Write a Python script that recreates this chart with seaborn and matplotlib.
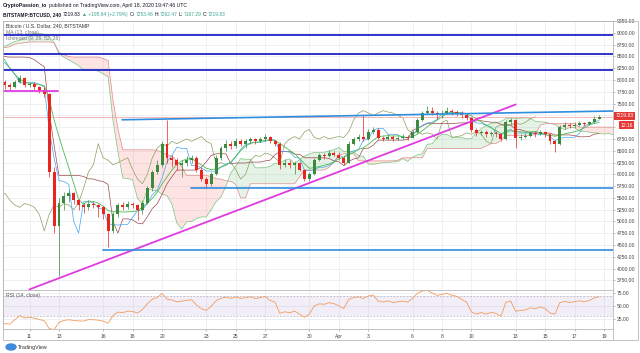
import numpy as np
import pandas as pd
import matplotlib
matplotlib.use("Agg")
import matplotlib.pyplot as plt
import seaborn as sns
from matplotlib.patches import Rectangle, Ellipse
from matplotlib.lines import Line2D

sns.set_theme(style="white")
plt.rcParams['font.family'] = ['Liberation Sans', 'DejaVu Sans']

# BITSTAMP:BTCUSD, 8h candles, starting 2020-03-01 00:00
first_open = 8600
close = [8560, 8600, 8530, 8520, 8700, 8900, 8870, 8800, 8760, 8780, 8720, 8750,
         8800, 8950, 9060, 9080, 9120, 9150, 9050, 8950, 8900, 8700, 8450, 8030,
         7950, 7900, 7850, 7950, 8050, 7900, 7920, 7850, 7780, 7700, 6050, 4900,
         5400, 5550, 5600, 5450, 5350, 5300, 5380, 5350, 5300, 5150, 4800, 5150,
         5350, 5300, 5380, 5350, 5250, 5400, 5700, 6050, 6200, 6650, 6350, 6300,
         6200, 6250, 6300, 6350, 6100, 5900, 5800, 6000, 6350, 6550, 6650, 6600,
         6700, 6650, 6700, 6750, 6700, 6750, 6800, 6700, 6650, 6200, 6250, 6200,
         6250, 6100, 5900, 6000, 6300, 6400, 6380, 6450, 6420,
         6350, 6250, 6650, 6750, 6800, 6750, 6900, 6950, 6780, 6750, 6800, 6750,
         6780, 6800, 6780, 6900, 7150, 7300, 7350, 7300, 7250, 7300, 7350, 7320,
         7300, 7250, 7200, 6950, 6870, 6900, 6850, 6880, 6850, 6750, 7100, 7150,
         6780, 6800, 6820, 6880, 6850, 6900, 6850, 6700, 6650, 7000, 7050, 7020,
         7050, 7080, 7060, 7100, 7180, 7219.83]
high = [8620, 8640, 8620, 8580, 8740, 8950, 8940, 8900, 8830, 8820, 8810, 8790,
        8840, 8990, 9100, 9130, 9160, 9190, 9170, 9080, 8980, 8920, 8720, 8470,
        8100, 8000, 7930, 7990, 8100, 8060, 7960, 7950, 7880, 7850, 7720, 6150,
        5500, 5620, 5660, 5620, 5480, 5400, 5450, 5420, 5380, 5330, 5180, 5200,
        5400, 5420, 5430, 5420, 5380, 5450, 5750, 6100, 6300, 6700, 7150, 6420,
        6350, 6300, 6380, 6420, 6380, 6150, 5950, 6050, 6400, 6600, 6720, 6700,
        6760, 6740, 6750, 6800, 6780, 6790, 6850, 6820, 6720, 6680, 6320, 6300,
        6280, 6270, 6120, 6050, 6350, 6450, 6450, 6520, 6500,
        6470, 6380, 6700, 6800, 6850, 7250, 6960, 7000, 6980, 6820, 6850, 6830,
        6820, 6850, 6830, 6950, 7200, 7350, 7450, 7420, 7340, 7360, 7420, 7380,
        7360, 7340, 7280, 7220, 6980, 6950, 6940, 6920, 6910, 6880, 7150, 7200,
        7170, 6850, 6880, 6920, 6920, 6950, 6920, 6870, 6720, 7050, 7100, 7090,
        7100, 7120, 7110, 7130, 7230, 7262.47]
low = [8500, 8530, 8480, 8420, 8500, 8680, 8820, 8740, 8700, 8690, 8650, 8680,
       8720, 8780, 8930, 9020, 9050, 9090, 9020, 8920, 8850, 8650, 8400, 7980,
       7880, 7800, 7780, 7820, 7930, 7860, 7850, 7790, 7720, 7640, 5950, 4750,
       3850, 5250, 5420, 5380, 5250, 5180, 5250, 5280, 5100, 5050, 4450, 4750,
       5100, 5240, 5260, 5290, 5030, 5150, 5380, 5650, 6000, 6150, 6250, 6150,
       6100, 5950, 6180, 6250, 6050, 5850, 5720, 5750, 5980, 6300, 6500, 6530,
       6560, 6600, 6550, 6650, 6640, 6680, 6700, 6660, 6600, 6120, 6150, 6130,
       6000, 6060, 5850, 5860, 5980, 6280, 6330, 6360, 6380,
       6300, 6200, 6230, 6620, 6700, 6700, 6720, 6850, 6740, 6700, 6720, 6700,
       6720, 6740, 6730, 6760, 6880, 7120, 7270, 7250, 7180, 7200, 7280, 7260,
       7230, 7200, 7150, 6900, 6820, 6840, 6790, 6810, 6800, 6700, 6720, 7060,
       6550, 6720, 6760, 6790, 6800, 6830, 6800, 6650, 6470, 6620, 6960, 6980,
       6990, 7020, 7020, 7040, 7080, 7167.29]

# drawings on the chart (day of March, price)
navy_levels = [8950, 8560, 8220]
pink_short_x, pink_short_y = [9.2, 12.93], [7760, 7760]
pink_trend_x, pink_trend_y = [10.99, 44.0], [3560, 7480]
blue_trend_x, blue_trend_y = [17.28, 50.61], [7156, 7342]
blue_level_start = [21.96, 15.96]
blue_level_price = [5715, 4400]

price_ticks = [3750, 4000, 4250, 4500, 4750, 5000, 5250, 5500, 5750, 6000, 6250,
               6500, 6750, 7000, 7250, 7500, 7750, 8000, 8250, 8500, 8750, 9000, 9250]
hidden_ticks = [7000, 7250]  # covered by the price / countdown tags

tick_dates = ["2020-03-11", "2020-03-13", "2020-03-16", "2020-03-18", "2020-03-20",
              "2020-03-23", "2020-03-25", "2020-03-27", "2020-03-30", "2020-04-01",
              "2020-04-03", "2020-04-06", "2020-04-08", "2020-04-10", "2020-04-13",
              "2020-04-15", "2020-04-17", "2020-04-19"]
tick_labels = ["11", "13", "16", "18", "20", "23", "25", "27", "30", "Apr",
               "3", "6", "8", "10", "13", "15", "17", "19"]

origin = pd.Timestamp("2020-02-29")
dates = pd.date_range("2020-03-01", periods=len(close), freq="8h")
df = pd.DataFrame({"t": ((dates - origin) / pd.Timedelta(days=1)).to_numpy(),
                   "close": close, "high": high, "low": low})
df["open"] = df["close"].shift(1).fillna(first_open)
tick_t = [(pd.Timestamp(d) - origin) / pd.Timedelta(days=1) for d in tick_dates]

# indicators (periods scaled from 4h to 8h candles)
def mid(n):
    return (df["high"].rolling(n, min_periods=1).max() + df["low"].rolling(n, min_periods=1).min()) / 2

step = 1 / 3
conv = mid(5)
base = mid(13)
span_a = (conv + base) / 2
span_b = mid(26)
t_lead = df["t"] + 13 * step
t_lag = df["t"] - 13 * step
ma = df["close"].rolling(7, min_periods=1).mean()

delta = df["close"].diff()
gain = delta.clip(lower=0).ewm(alpha=1 / 9, adjust=False).mean()
loss = (-delta.clip(upper=0)).ewm(alpha=1 / 9, adjust=False).mean()
rsi = 100 - 100 / (1 + gain / loss)

W, H = 640, 353
fig = plt.figure(figsize=(W / 100, H / 100), dpi=100)
ax = fig.add_axes([3 / W, 1 - 290 / H, 610 / W, 269 / H])
axr = fig.add_axes([3 / W, 1 - 329 / H, 610 / W, 39 / H], sharex=ax)

grid_c = "#eceef2"
for a in (ax, axr):
    for s in a.spines.values():
        s.set_color("#b8b8b8")
        s.set_linewidth(0.6)
    a.set_xticks(tick_t)
    a.grid(True, color=grid_c, lw=0.6)
    a.set_axisbelow(True)

# cloud
ax.fill_between(t_lead, span_a, span_b, where=span_a >= span_b, interpolate=True,
                color="#4caf50", alpha=0.14, lw=0, zorder=1)
ax.fill_between(t_lead, span_a, span_b, where=span_a < span_b, interpolate=True,
                color="#f44336", alpha=0.14, lw=0, zorder=1)
sns.lineplot(x=t_lead, y=span_a, ax=ax, color="#7cc47f", lw=0.5, zorder=2)
sns.lineplot(x=t_lead, y=span_b, ax=ax, color="#e08a8a", lw=0.5, zorder=2)
sns.lineplot(x=t_lag, y=df["close"], ax=ax, color="#8aa060", lw=0.5, zorder=2)
sns.lineplot(x=df["t"], y=base, ax=ax, color="#9b4a4a", lw=0.5, zorder=2)
sns.lineplot(x=df["t"], y=conv, ax=ax, color="#42a5f5", lw=0.5, zorder=2)
sns.lineplot(x=df["t"], y=ma, ax=ax, color="#4cbb50", lw=0.6, zorder=2)

# last price line
ax.axhline(close[-1], color="#f19a9a", lw=0.5, zorder=2)

# candles
up = df["close"] >= df["open"]
cols = np.where(up, "#3b8a3e", "#e8261f")
ax.vlines(df["t"], df["low"], df["high"], colors=cols, lw=0.5, zorder=4)
body = (df["close"] - df["open"]).abs().clip(lower=10)
ax.bar(df["t"], body, bottom=np.minimum(df["open"], df["close"]), width=0.2,
       color=cols, lw=0, zorder=5)

# drawings
for lv in navy_levels:
    ax.axhline(lv, color="#1f22c9", lw=1.3, zorder=6)
ax.plot(pink_short_x, pink_short_y, color="#e03ae0", lw=1.3, zorder=6)
ax.plot(pink_trend_x, pink_trend_y, color="#e03ae0", lw=1.3, zorder=6)
ax.plot(blue_trend_x, blue_trend_y, color="#2f8ee0", lw=1.2, zorder=6)
for x0, p in zip(blue_level_start, blue_level_price):
    ax.plot([x0, 50.61], [p, p], color="#2f8ee0", lw=1.2, zorder=6)

ax.set_xlim(9.2, 50.61)
ax.set_ylim(3548, 9235)
ax.set_xlabel("")
ax.set_ylabel("")
ax.yaxis.tick_right()
ax.set_yticks(price_ticks)
ax.set_yticklabels(["" if v in hidden_ticks else f"{v:.2f}" for v in price_ticks])
ax.tick_params(axis="y", labelsize=3.6, colors="#888888", labelcolor="#444444",
               length=1.5, width=0.4, pad=1.5, right=True)
ax.tick_params(axis="x", labelbottom=False, length=0)

# price tags on the scale
ax.text(1.004, close[-1] + 20, f"{close[-1]:.2f}", transform=ax.get_yaxis_transform(),
        fontsize=3.6, color="white", va="center", ha="left", zorder=10, clip_on=False,
        bbox=dict(boxstyle="square,pad=0.3", fc="#e53935", ec="none"))
ax.text(1.012, close[-1] - 175, "12:16", transform=ax.get_yaxis_transform(),
        fontsize=3.6, color="white", va="center", ha="left", zorder=10, clip_on=False,
        bbox=dict(boxstyle="square,pad=0.25", fc="#e53935", ec="none"))

# legends in the pane
ax.text(0.005, 0.982, "Bitcoin / U.S. Dollar, 240, BITSTAMP", transform=ax.transAxes,
        fontsize=3.7, color="#333333", va="center", zorder=9)
ax.text(0.005, 0.958, "MA (13, close)", transform=ax.transAxes,
        fontsize=3.7, color="#777777", va="center", zorder=9)
ax.text(0.005, 0.934, "Ichimoku (9, 26, 52, 26)", transform=ax.transAxes,
        fontsize=3.7, color="#777777", va="center", zorder=9)

# RSI pane
axr.axhspan(30, 70, color="#9575cd", alpha=0.12, lw=0)
for lv in (70, 30):
    axr.axhline(lv, color="#9a9a9a", lw=0.4, ls=(0, (3, 3)))
sns.lineplot(x=df["t"], y=rsi, ax=axr, color="#f29b59", lw=0.6)
axr.set_ylim(5.8, 80.8)
axr.set_xlabel("")
axr.set_ylabel("")
axr.yaxis.tick_right()
axr.set_yticks([25, 50, 75])
axr.set_yticklabels(["25.00", "50.00", "75.00"])
axr.tick_params(axis="y", labelsize=3.6, colors="#888888", labelcolor="#444444",
                length=1.5, width=0.4, pad=1.5, right=True)
axr.set_xticklabels(tick_labels)
axr.tick_params(axis="x", labelsize=3.6, colors="#888888", labelcolor="#444444",
                length=1.5, width=0.4, pad=2, bottom=True)
axr.set_xlim(9.2, 50.61)
axr.text(0.005, 0.86, "RSI (14, close)", transform=axr.transAxes,
         fontsize=3.7, color="#555555", va="center")

# outer frame
fig.add_artist(Rectangle((3 / W, 1 - 340 / H), 635 / W, 319 / H, transform=fig.transFigure,
                         fill=False, ec="#b8b8b8", lw=0.6))
fig.add_artist(Line2D([613 / W, 613 / W], [1 - 340 / H, 1 - 329 / H],
                      transform=fig.transFigure, color="#b8b8b8", lw=0.6))

# header
renderer = fig.canvas.get_renderer()
def text_row(x_px, y_px, parts, size):
    x = x_px
    for s, col, bold, gap in parts:
        tx = fig.text(x / W, 1 - y_px / H, s, fontsize=size, color=col,
                      fontweight="bold" if bold else "normal", va="center", ha="left")
        x += tx.get_window_extent(renderer).width + gap

dark = "#131722"
teal = "#3aa58f"
text_row(3, 6, [("CryptoPassion_io", dark, True, 1.5),
                ("published on TradingView.com, April 18, 2020 19:47:46 UTC", dark, False, 0)], 3.7)
text_row(3, 14.5, [("BITSTAMP:BTCUSD, 240", dark, True, 2),
                   ("7219.83", dark, False, 1.5),
                   ("\u25b2 +195.64 (+2.79%)", teal, False, 2),
                   ("O:", dark, False, 0.3), ("7253.48", teal, False, 1.5),
                   ("H:", dark, False, 0.3), ("7262.47", teal, False, 1.5),
                   ("L:", dark, False, 0.3), ("7167.29", teal, False, 1.5),
                   ("C:", dark, False, 0.3), ("7219.83", teal, False, 0)], 3.5)

# footer logo
fig.add_artist(Ellipse((11 / W, 1 - 347 / H), 10 / W, 6 / H, transform=fig.transFigure,
                       color="#3d8bd9"))
fig.text(18 / W, 1 - 347 / H, "TradingView", fontsize=3.9, color="#333333", va="center")

fig.savefig("out.png", dpi=100, facecolor="white")
